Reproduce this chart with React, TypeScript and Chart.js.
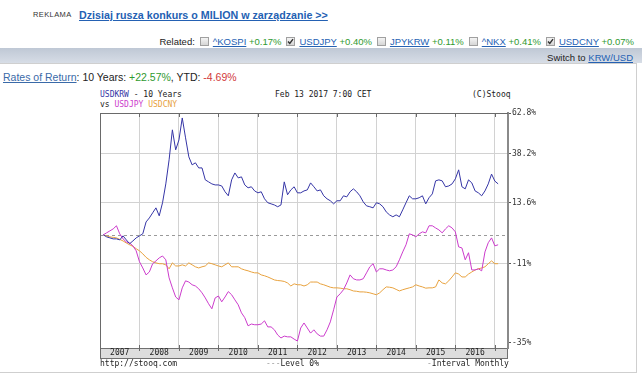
import React, { useEffect, useRef } from 'react';
import { Chart, registerables } from 'chart.js';

Chart.register(...registerables);

// ---------- data ----------
const AD_LABEL = 'REKLAMA';
const AD_TEXT = 'Dzisiaj rusza konkurs o MILION w zarządzanie >>';
const RELATED_NAMES = ['^KOSPI', 'USDJPY', 'JPYKRW', '^NKX', 'USDCNY'];
const RELATED_CHANGES = ['+0.17%', '+0.40%', '+0.11%', '+0.41%', '+0.07%'];
const RELATED_CHECKED = [false, true, false, false, true];
const RETURN_10Y = '+22.57%';
const RETURN_YTD = '-4.69%';

const YEAR_LABELS = ['2007', '2008', '2009', '2010', '2011', '2012', '2013', '2014', '2015', '2016'];
const Y_TICK_PCTS = [62.8, 38.2, 13.6, -11, -35];
const Y_TICK_LABELS = ['62.8%', '38.2%', '13.6%', '-11%', '-35%'];
const Y_MIN_PCT = -36.4;
const Y_MAX_PCT = 62.8;
const LEVEL_PCT = 0;
const FIRST_MONTH = 1; // months after Jan 2007 (Feb 2007)
const X_MAX_MONTH = 124;

// monthly % change vs Feb 2007
const USDKRW = [
  0, -0.8, -1.2, -1.6, -1.6, -2.0, -0.4, -2.0, -3.5, -2.4, -1.2, -0.4,
  0.4, 5.3, 7.0, 9.2, 11.4, 7.9, 13.7, 22.6, 35.0, 52.2, 40.5, 46.2,
  59.6, 47.4, 36.6, 32.3, 33.4, 30.7, 30.7, 24.6, 23.6, 22.6, 22.1, 22.1,
  21.6, 18.8, 16.9, 24.6, 28.1, 25.6, 26.1, 22.1, 20.7, 21.2, 19.2, 18.3,
  18.8, 15.5, 13.7, 13.2, 12.7, 11.9, 12.7, 23.6, 17.4, 19.7, 21.2, 18.3,
  18.3, 19.2, 19.7, 23.1, 21.2, 19.2, 19.7, 16.9, 15.5, 14.6, 13.2, 14.6,
  14.6, 16.9, 16.4, 18.8, 20.2, 18.8, 16.9, 14.1, 12.3, 11.9, 11.4, 13.7,
  13.2, 11.9, 9.6, 8.3, 7.5, 8.3, 7.5, 10.5, 13.7, 16.9, 15.5, 15.5,
  16.0, 16.9, 13.2, 16.0, 17.8, 24.1, 24.6, 24.1, 21.2, 21.6, 22.6, 25.1,
  29.7, 21.2, 20.2, 24.6, 23.1, 19.2, 18.3, 16.9, 19.2, 22.6, 27.5, 24.0,
  22.6,
];
const USDJPY = [
  0, 0.8, 1.6, 2.4, 3.7, 0.4, -1.6, -2.8, -3.2, -4.3, -6.2, -10.2,
  -12.4, -14.8, -13.8, -10.9, -9.9, -8.8, -8.1, -9.5, -15.8, -19.1, -22.0, -22.9,
  -19.1, -16.8, -17.2, -18.1, -18.5, -19.4, -20.7, -22.3, -24.1, -25.6, -22.3, -21.7,
  -23.5, -22.0, -20.3, -21.3, -22.9, -24.4, -26.8, -28.2, -30.5, -30.0, -30.2, -30.2,
  -30.0, -29.1, -30.8, -30.8, -31.6, -33.0, -33.8, -33.3, -33.5, -33.5, -34.1, -34.6,
  -31.1, -29.7, -31.1, -32.5, -31.6, -32.7, -33.3, -33.3, -31.6, -29.4, -25.9, -22.0,
  -21.0, -19.7, -17.5, -14.8, -16.1, -16.5, -16.5, -16.1, -14.1, -12.0, -10.9, -13.8,
  -12.7, -12.7, -13.1, -13.4, -13.1, -12.0, -9.5, -6.6, -3.9, 0.4, 0, -0.8,
  0.4, 1.2, 0.8, 3.7, 3.7, 2.8, 2.0, 0.8, 2.4, 3.7, 2.8, 1.2,
  -4.7, -5.1, -9.5, -6.9, -13.1, -13.1, -12.7, -13.4, -6.6, -3.1, -1.2, -4.3,
  -3.9,
];
const USDCNY = [
  0, -0.4, -0.8, -1.0, -1.2, -1.8, -2.4, -3.2, -3.9, -4.5, -5.4, -6.2,
  -7.3, -8.6, -9.5, -10.2, -10.6, -10.9, -10.9, -11.3, -12.7, -10.6, -11.7, -11.7,
  -11.3, -11.7, -10.6, -11.3, -12.0, -12.4, -12.0, -11.7, -10.6, -10.9, -11.3, -11.7,
  -12.0, -11.3, -10.6, -12.0, -12.0, -12.0, -12.7, -13.1, -13.4, -13.8, -14.1, -14.1,
  -14.8, -15.1, -15.5, -16.0, -16.5, -16.7, -16.8, -17.0, -17.5, -18.5, -17.8, -18.1,
  -18.1, -18.5, -18.1, -17.2, -17.2, -17.2, -17.8, -18.1, -18.5, -18.9, -19.1, -19.1,
  -19.2, -19.4, -19.4, -19.7, -20.1, -20.2, -20.4, -20.4, -20.5, -20.7, -21.0, -21.3,
  -20.7, -19.7, -18.8, -18.9, -19.1, -19.6, -20.1, -19.7, -19.4, -19.1, -18.8, -18.1,
  -18.5, -18.8, -19.2, -19.1, -19.1, -18.8, -16.5, -17.5, -17.8, -16.8, -15.5, -14.1,
  -14.5, -15.5, -15.5, -14.5, -13.8, -13.1, -12.7, -12.4, -12.0, -10.9, -9.9, -10.9,
  -10.9,
];

// ---------- styles ----------
const SANS = '"Liberation Sans", Arial, sans-serif';
const MONO = '"DejaVu Sans Mono", monospace';
const LINK = '#2461b3';
const GREEN = '#2f9a2f';
const RED = '#d23a3a';
const C_KRW = '#3535a6';
const C_JPY = '#cc3ccc';
const C_CNY = '#e8a23e';
const BAND_H = 10;

function Box({ checked }: { checked: boolean }) {
  return (
    <span
      style={{
        display: 'inline-block', width: 9, height: 9, boxSizing: 'border-box',
        border: '1px solid #a0a0a0', background: 'linear-gradient(#f4f4f4,#d6d6d6)',
        verticalAlign: -1, margin: '0 4px 0 5px', position: 'relative',
      }}
    >
      {checked && (
        <svg width="7" height="7" style={{ position: 'absolute', left: 0, top: 0 }}>
          <polyline points="1,3.5 2.8,5.5 6,1.2" fill="none" stroke="#333" strokeWidth="1.4" />
        </svg>
      )}
    </span>
  );
}

const linkStyle: React.CSSProperties = { color: LINK, textDecoration: 'underline' };

export default function App() {
  const ref = useRef<HTMLCanvasElement>(null);

  useEffect(() => {
    if (!ref.current) return;
    const toPts = (arr: number[]) => arr.map((v, i) => ({ x: FIRST_MONTH + i, y: 1 + v / 100 }));
    const isMid = (v: number) => v % 12 === 6;

    const framePlugin = {
      id: 'frame',
      beforeDraw(chart: any) {
        const { ctx, chartArea: a } = chart;
        ctx.save();
        ctx.fillStyle = '#dddddd';
        ctx.fillRect(a.left, a.bottom, a.right - a.left, BAND_H);
        ctx.strokeStyle = '#707070';
        ctx.lineWidth = 1;
        ctx.strokeRect(a.left + 0.5, a.bottom + 0.5, a.right - a.left - 1, BAND_H);
        ctx.restore();
      },
      beforeDatasetsDraw(chart: any) {
        const { ctx, chartArea: a } = chart;
        const y = Math.round(chart.scales.y.getPixelForValue(1 + LEVEL_PCT / 100)) + 0.5;
        ctx.save();
        ctx.strokeStyle = '#9a9a9a';
        ctx.lineWidth = 1;
        ctx.setLineDash([3, 3]);
        ctx.beginPath();
        ctx.moveTo(a.left, y);
        ctx.lineTo(a.right, y);
        ctx.stroke();
        ctx.restore();
      },
      afterDraw(chart: any) {
        const { ctx, chartArea: a } = chart;
        const xs = chart.scales.x;
        ctx.save();
        ctx.strokeStyle = '#6a6a6a';
        ctx.lineWidth = 1;
        ctx.beginPath();
        ctx.moveTo(a.left, a.top + 0.5);
        ctx.lineTo(a.right, a.top + 0.5);
        ctx.moveTo(a.left + 0.5, a.top);
        ctx.lineTo(a.left + 0.5, a.bottom + BAND_H);
        xs.ticks.forEach((t: any) => {
          if (isMid(t.value)) return;
          const px = Math.round(xs.getPixelForValue(t.value)) + 0.5;
          ctx.moveTo(px, a.top);
          ctx.lineTo(px, a.top + 4);
          ctx.moveTo(px, a.bottom - 3);
          ctx.lineTo(px, a.bottom + 3);
        });
        ctx.stroke();
        ctx.restore();
      },
    };

    const tickVals: number[] = [];
    for (let v = 6; v <= 120; v += 6) tickVals.push(v);

    const chart = new Chart(ref.current, {
      type: 'line',
      data: {
        datasets: [
          { label: 'USDKRW', data: toPts(USDKRW), borderColor: C_KRW, borderWidth: 1, pointRadius: 0, tension: 0 },
          { label: 'USDJPY', data: toPts(USDJPY), borderColor: C_JPY, borderWidth: 1, pointRadius: 0, tension: 0 },
          { label: 'USDCNY', data: toPts(USDCNY), borderColor: C_CNY, borderWidth: 1, pointRadius: 0, tension: 0 },
        ],
      },
      options: {
        responsive: false,
        animation: false,
        devicePixelRatio: 1,
        layout: { padding: { left: 100, top: 113, right: 100, bottom: 15 } },
        plugins: { legend: { display: false }, tooltip: { enabled: false } },
        scales: {
          x: {
            type: 'linear', position: 'bottom', min: 0, max: X_MAX_MONTH, bounds: 'data',
            afterBuildTicks: (s: any) => { s.ticks = tickVals.map((value) => ({ value })); },
            ticks: {
              callback: (v: any) => (isMid(v) ? YEAR_LABELS[(v - 6) / 12] : ''),
              font: { family: MONO, size: 8 }, color: '#222', padding: 0,
              maxRotation: 0, autoSkip: false,
            },
            grid: {
              color: (c: any) => (c.tick && isMid(c.tick.value) ? 'rgba(0,0,0,0)' : '#d2d2d2'),
              drawTicks: false, lineWidth: 1,
            },
            border: { display: true, color: '#707070' },
            afterFit: (s: any) => { s.height = BAND_H; },
          },
          y: {
            type: 'logarithmic', position: 'right', bounds: 'data',
            min: 1 + Y_MIN_PCT / 100, max: 1 + Y_MAX_PCT / 100,
            afterBuildTicks: (s: any) => { s.ticks = Y_TICK_PCTS.map((p) => ({ value: 1 + p / 100 })); },
            ticks: {
              callback: (_v: any, i: number) => Y_TICK_LABELS[i],
              font: { family: MONO, size: 8 }, color: '#333', padding: 1, autoSkip: false,
            },
            grid: {
              color: (c: any) => {
                const i = c.index;
                return i === 0 || i === Y_TICK_PCTS.length - 1 ? 'rgba(0,0,0,0)' : '#d2d2d2';
              },
              tickColor: '#555', tickLength: 3,
            },
            border: { color: '#8a8a8a', width: 2 },
            afterFit: (s: any) => { s.width = 34; },
          },
        },
      } as any,
      plugins: [framePlugin],
    });
    return () => chart.destroy();
  }, []);

  const mono: React.CSSProperties = { position: 'absolute', fontFamily: MONO, fontSize: 8, lineHeight: '10px', color: '#222', whiteSpace: 'pre' };

  return (
    <div style={{ position: 'absolute', left: 0, top: 0, width: 642, height: 373, overflow: 'hidden', background: '#fff', fontFamily: SANS }}>
      {/* ad line */}
      <div style={{ position: 'absolute', left: 33, top: 10, fontSize: 7.5, lineHeight: '10px', color: '#333', letterSpacing: 0.4 }}>{AD_LABEL}</div>
      <div style={{ position: 'absolute', left: 79, top: 8, fontSize: 10.7, lineHeight: '14px', fontWeight: 'bold', whiteSpace: 'nowrap', ...linkStyle }}>{AD_TEXT}</div>

      {/* related */}
      <div style={{ position: 'absolute', right: 8, top: 35.5, fontSize: 9.5, lineHeight: '11px', color: '#222', whiteSpace: 'nowrap' }}>
        Related:
        {RELATED_NAMES.map((n, i) => (
          <React.Fragment key={n}>
            <Box checked={RELATED_CHECKED[i]} />
            <span style={linkStyle}>{n}</span>
            <span style={{ color: GREEN }}> {RELATED_CHANGES[i]}</span>
          </React.Fragment>
        ))}
      </div>

      {/* bar */}
      <div style={{ position: 'absolute', left: 0, top: 48, width: 642, height: 15, background: 'linear-gradient(#bfc8d5, #d7dde6)' }} />
      <div style={{ position: 'absolute', right: 9, top: 51.5, fontSize: 9.5, lineHeight: '11px', color: '#222', whiteSpace: 'nowrap' }}>
        Switch to <span style={linkStyle}>KRW/USD</span>
      </div>

      {/* content box */}
      <div style={{ position: 'absolute', left: -1, top: 63, width: 638, height: 310, boxSizing: 'border-box', border: '1px solid #cfcfcf' }} />

      <div style={{ position: 'absolute', left: 3, top: 71, fontSize: 10.5, lineHeight: '12px', color: '#222', whiteSpace: 'nowrap' }}>
        <span style={{ color: '#3a6aa8', textDecoration: 'underline' }}>Rates of Return</span>: 10 Years: <span style={{ color: GREEN }}>{RETURN_10Y}</span>, YTD: <span style={{ color: RED }}>{RETURN_YTD}</span>
      </div>

      {/* chart header */}
      <div style={{ ...mono, left: 100, top: 90 }}><span style={{ color: C_KRW }}>USDKRW</span> - 10 Years</div>
      <div style={{ ...mono, left: 100, top: 100 }}>vs <span style={{ color: C_JPY }}>USDJPY</span> <span style={{ color: C_CNY }}>USDCNY</span></div>
      <div style={{ ...mono, left: 275, top: 90 }}>Feb 13 2017 7:00 CET</div>
      <div style={{ ...mono, left: 472, top: 90 }}>(C)Stooq</div>

      <canvas ref={ref} width={642} height={373} style={{ position: 'absolute', left: 0, top: 0, width: 642, height: 373 }} />

      {/* footer */}
      <div style={{ ...mono, left: 100, top: 359 }}>http://stooq.com</div>
      <div style={{ ...mono, left: 266, top: 359 }}><span style={{ color: '#999' }}>---</span>Level 0%</div>
      <div style={{ ...mono, left: 427, top: 359 }}><span style={{ color: '#999' }}>-</span>Interval Monthly</div>
    </div>
  );
}
